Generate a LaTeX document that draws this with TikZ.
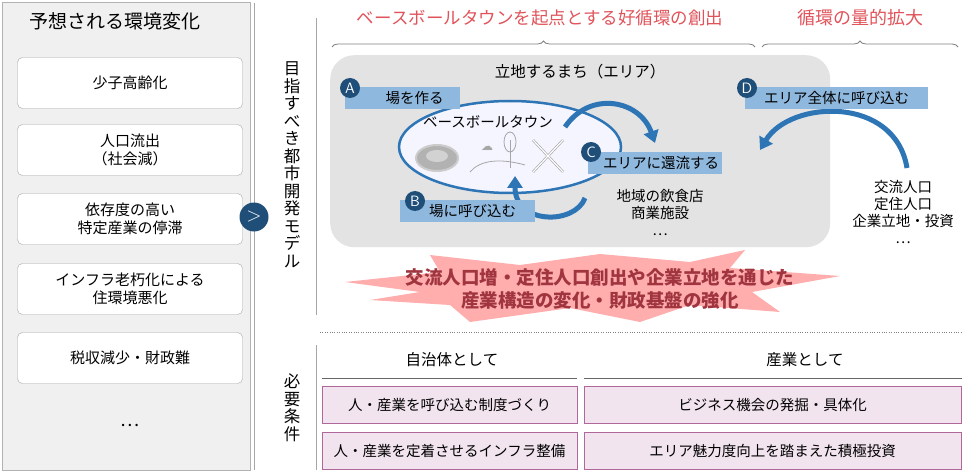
\documentclass[tikz,border=0pt]{standalone}
\usepackage{fontspec}
\setmainfont{Noto Sans CJK JP}
\newfontfamily\djv{DejaVu Sans}
\usetikzlibrary{decorations.pathreplacing,arrows.meta,shapes.geometric}
\definecolor{dblue}{HTML}{1F4E79}
\definecolor{mblue}{HTML}{2E75B6}
\definecolor{lblue}{HTML}{8FB8DE}
\definecolor{rtxt}{HTML}{E0535A}
\definecolor{dred}{HTML}{A0353F}
\definecolor{pinkf}{HTML}{F2E4EE}
\definecolor{pinkd}{HTML}{B0689A}
\begin{document}
\begin{tikzpicture}[x=1pt,y=-1pt,
  lbox/.style={draw=gray!70,fill=white,rounded corners=5pt,minimum width=225pt,minimum height=51pt,font=\fontsize{15}{18}\selectfont,align=center},
  pbox/.style={draw=pinkd,fill=pinkf,minimum height=37pt,font=\fontsize{14.5}{17}\selectfont},
  bar/.style={fill=lblue,minimum height=22pt,anchor=west,inner sep=0pt,font=\fontsize{14.5}{17}\selectfont},
  circ/.style={circle,fill=dblue,text=white,inner sep=0pt,minimum size=20pt,font=\sffamily\fontsize{15}{15}\selectfont},
  thick arrow/.style={line width=5pt,mblue,-{Triangle[width=15pt,length=12pt]}},
  brc/.style={draw=gray,line width=0.8pt,decorate,decoration={brace,amplitude=6pt}},
  txt/.style={font=\fontsize{14.5}{17}\selectfont,align=center}]
\useasboundingbox (0,0) rectangle (971,473);
% left panel
\node[draw=gray!60,fill=gray!12,minimum width=248pt,minimum height=468pt,anchor=north west] (lp) at (2,2) {};
\node[font=\fontsize{19}{22}\selectfont] (lt) at (115,21) {予想される環境変化};
\node[lbox] (l1) at (130,83) {少子高齢化};
\node[lbox] (l2) at (130,150) {人口流出\\（社会減）};
\node[lbox] (l3) at (130,219) {依存度の高い\\特定産業の停滞};
\node[lbox] (l4) at (130,289) {インフラ老朽化による\\住環境悪化};
\node[lbox] (l5) at (130,358) {税収減少・財政難};
\node[font=\fontsize{18}{18}\selectfont] (ld) at (130,425) {…};
% dividers
\coordinate (v1a) at (254,3); \coordinate (v1b) at (254,470);
\draw[gray!70,line width=0.8pt] (v1a) -- (v1b);
\coordinate (v2a) at (316,18); \coordinate (v2b) at (316,315);
\coordinate (v3a) at (316,345); \coordinate (v3b) at (316,470);
\draw[gray!70,line width=0.8pt] (v2a) -- (v2b) (v3a) -- (v3b);
\node[circle,fill=dblue,minimum size=29pt,inner sep=0pt,text=white,font=\sffamily\fontsize{20}{20}\selectfont] (go) at (254,217) {>};
\node[font=\fontsize{16.5}{17.5}\selectfont,align=center,inner sep=0pt] (vt1) at (292,165) {目\\指\\す\\べ\\き\\都\\市\\開\\発\\モ\\デ\\ル};
\node[font=\fontsize{16.5}{17.5}\selectfont,align=center,inner sep=0pt] (vt2) at (292,408) {必\\要\\条\\件};
% titles and braces
\node[text=rtxt,font=\fontsize{17.5}{20}\selectfont] (t1) at (540,18) {ベースボールタウンを起点とする好循環の創出};
\node[text=rtxt,font=\fontsize{18}{20}\selectfont] (t2) at (860,18) {循環の量的拡大};
\coordinate (b1a) at (332,47); \coordinate (b1b) at (755,47);
\coordinate (b2a) at (762,47); \coordinate (b2b) at (958,47);
\draw[brc] (b1a) -- (b1b);
\draw[brc] (b2a) -- (b2b);
% gray area
\node[fill=gray!22,rounded corners=24pt,minimum width=500pt,minimum height=192pt,anchor=north west] (area) at (330,55) {};
\node[font=\fontsize{15.5}{18}\selectfont] (at) at (580,72) {立地するまち（エリア）};
\node[ellipse,draw=mblue,line width=2.5pt,fill=blue!4,minimum width=222pt,minimum height=92pt] (ell) at (510,147) {};
\node[txt] (bbt) at (488,122) {ベースボールタウン};
% icons
\node[ellipse,fill=gray!60,draw=gray!40,line width=2pt,minimum width=42pt,minimum height=26pt] (stad) at (437,158) {};
\node[ellipse,fill=gray!35,minimum width=22pt,minimum height=12pt] (field) at (437,156) {};
\coordinate (h1) at (470,172); \coordinate (h3) at (525,165);
\draw[gray!70,line width=0.8pt] (h1) .. controls (480,160) and (500,158) .. (h3);
\coordinate (tr1) at (510,140); \coordinate (tr2) at (510,168);
\draw[gray!70,line width=0.8pt] (tr2) -- (tr1);
\node[ellipse,draw=gray!70,line width=0.8pt,minimum width=12pt,minimum height=20pt] (leaf) at (510,142) {};
\node[gray!70,font=\djv\fontsize{12}{12}\selectfont] (cloud) at (487,148) {☁};
\coordinate (k1) at (533,140); \coordinate (k2) at (563,172);
\coordinate (k3) at (563,140); \coordinate (k4) at (533,172);
\draw[gray!70,line width=2.5pt] (k1) -- (k2) (k3) -- (k4);
\draw[white,line width=1.2pt] (k1) -- (k2) (k3) -- (k4);
% arrows in circle
\coordinate (ca1) at (565,127); \coordinate (ca2) at (655,143);
\draw[thick arrow] (ca1) .. controls (590,90) and (640,100) .. (ca2);
\coordinate (cb1) at (585,198); \coordinate (cb2) at (515,176);
\draw[thick arrow] (cb1) .. controls (575,225) and (515,225) .. (cb2);
% labels
\node[bar,minimum width=115pt] (la) at (345,98) {\hspace{24pt}場を作る\hfill};
\node[circ] (ca) at (350,88) {A};
\node[bar,minimum width=135pt] (lb) at (400,211) {\hspace{10pt}場に呼び込む};
\node[circ] (cb) at (415,201) {B};
\node[bar,minimum width=134pt] (lc) at (588,163) {\hspace{12pt}エリアに還流する};
\node[circ] (cc) at (591,152) {C};
\node[txt] (shop) at (660,212) {地域の飲食店\\商業施設\\…};
% D
\coordinate (da1) at (907,168); \coordinate (da2) at (760,150);
\draw[thick arrow] (da1) .. controls (895,95) and (790,100) .. (da2);
\node[bar,minimum width=183pt] (ld2) at (745,98) {\hspace{0pt}エリア全体に呼び込む};
\node[circ] (cd) at (747,88) {D};
\node[txt] (pop) at (903,212) {交流人口\\定住人口\\企業立地・投資\\…};
% starburst
\fill[red!45!pink,opacity=0.55] (345,282) -- (440,272) -- (430,255) -- (520,265) -- (600,254) -- (690,262) -- (745,250) -- (730,268) -- (840,276) -- (752,292) -- (780,312) -- (690,305) -- (640,322) -- (570,308) -- (470,322) -- (450,305) -- (370,300) -- (420,292) -- cycle;
\node[text=dred,font=\bfseries\fontsize{18.5}{23}\selectfont,align=center] (msg) at (600,289) {交流人口増・定住人口創出や企業立地を通じた\\産業構造の変化・財政基盤の強化};
% dotted line
\coordinate (d1) at (320,332); \coordinate (d2) at (962,332);
\draw[gray,dotted] (d1) -- (d2);
% conditions
\node[font=\fontsize{15.5}{18}\selectfont] (h1n) at (452,360) {自治体として};
\node[font=\fontsize{15.5}{18}\selectfont] (h2n) at (805,360) {産業として};
\coordinate (u1) at (322,378); \coordinate (u2) at (577,378);
\coordinate (u3) at (584,378); \coordinate (u4) at (962,378);
\draw[gray!80!black,line width=0.9pt] (u1) -- (u2) (u3) -- (u4);
\node[pbox,minimum width=255pt] (p1) at (449.5,405) {人・産業を呼び込む制度づくり};
\node[pbox,minimum width=255pt] (p2) at (449.5,451) {人・産業を定着させるインフラ整備};
\node[pbox,minimum width=377pt] (p3) at (772.5,405) {ビジネス機会の発掘・具体化};
\node[pbox,minimum width=377pt] (p4) at (772.5,451) {エリア魅力度向上を踏まえた積極投資};
\end{tikzpicture}
\end{document}
